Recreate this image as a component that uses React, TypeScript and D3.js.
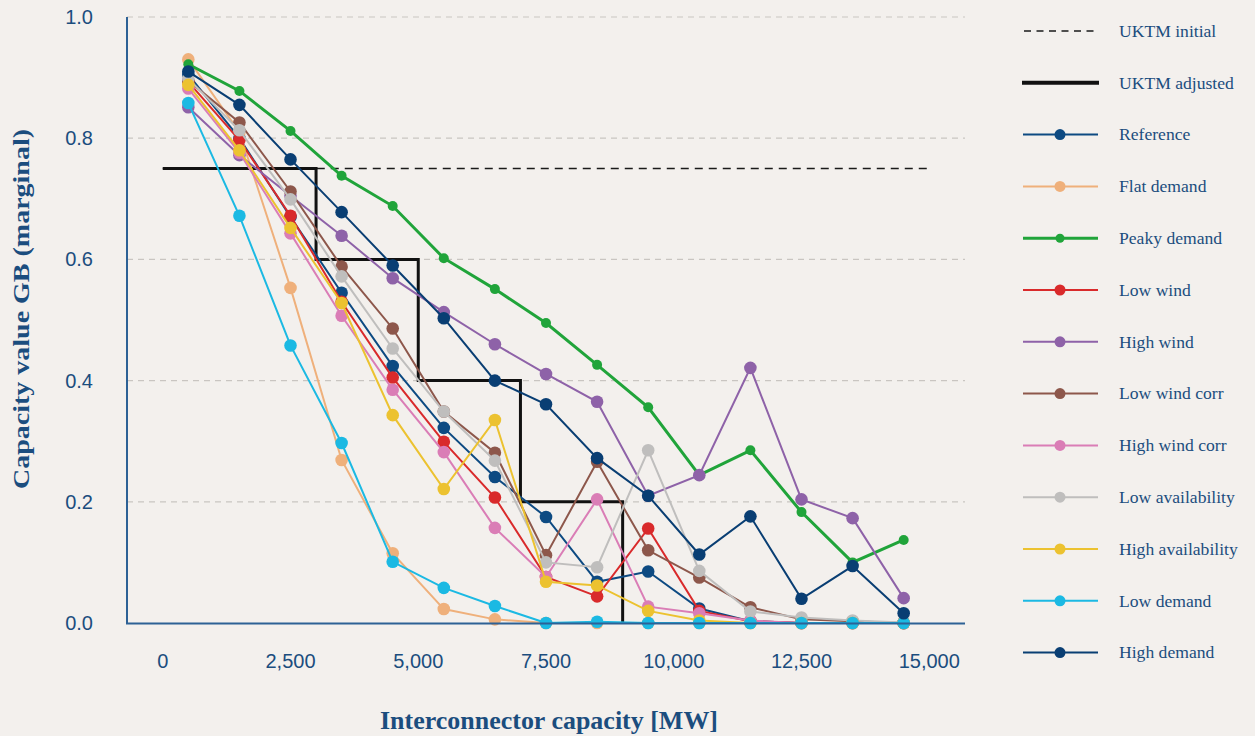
import React from "react";
import * as d3 from "d3";

const xValues = [500, 1500, 2500, 3500, 4500, 5500, 6500, 7500, 8500, 9500, 10500, 11500, 12500, 13500, 14500];

const reference = [0.905, 0.8, 0.67, 0.545, 0.424, 0.322, 0.241, 0.175, 0.068, 0.085, 0.024, 0.003, 0, 0, 0];
const flatDemand = [0.93, 0.81, 0.553, 0.269, 0.115, 0.023, 0.006, 0, 0, 0, 0, 0, 0, 0, 0];
const peakyDemand = [0.922, 0.878, 0.812, 0.738, 0.688, 0.602, 0.551, 0.495, 0.426, 0.356, 0.244, 0.285, 0.183, 0.1, 0.137];
const lowWind = [0.893, 0.797, 0.672, 0.53, 0.405, 0.299, 0.207, 0.076, 0.044, 0.156, 0.02, 0.003, 0, 0, 0];
const highWind = [0.851, 0.772, 0.705, 0.639, 0.569, 0.513, 0.46, 0.411, 0.365, 0.21, 0.244, 0.421, 0.204, 0.173, 0.041];
const lowWindCorr = [0.895, 0.826, 0.712, 0.588, 0.486, 0.349, 0.281, 0.112, 0.266, 0.12, 0.075, 0.026, 0.006, 0.003, 0];
const highWindCorr = [0.882, 0.776, 0.643, 0.507, 0.385, 0.282, 0.157, 0.076, 0.204, 0.027, 0.016, 0.004, 0, 0, 0];
const lowAvailability = [0.898, 0.813, 0.699, 0.572, 0.453, 0.349, 0.268, 0.1, 0.092, 0.285, 0.086, 0.019, 0.009, 0.004, 0.001];
const highAvailability = [0.888, 0.78, 0.652, 0.528, 0.343, 0.221, 0.335, 0.068, 0.062, 0.02, 0.004, 0, 0, 0, 0];
const lowDemand = [0.858, 0.672, 0.458, 0.297, 0.101, 0.058, 0.028, 0, 0.002, 0, 0, 0, 0, 0, 0];
const highDemand = [0.91, 0.855, 0.765, 0.678, 0.59, 0.503, 0.4, 0.361, 0.272, 0.21, 0.113, 0.176, 0.04, 0.094, 0.016];

const initialX = [0, 15000];
const initialValues = [0.75, 0.75];
const adjustedX = [0, 3000, 5000, 7000, 9000];
const adjustedValues = [0.75, 0.6, 0.4, 0.2, 0];

const xTicks = [0, 2500, 5000, 7500, 10000, 12500, 15000];
const yTicks = [0, 0.2, 0.4, 0.6, 0.8, 1.0];

const seriesNames = ["Reference", "Flat demand", "Peaky demand", "Low wind", "High wind", "Low wind corr", "High wind corr", "Low availability", "High availability", "Low demand", "High demand"];
const seriesValues = [reference, flatDemand, peakyDemand, lowWind, highWind, lowWindCorr, highWindCorr, lowAvailability, highAvailability, lowDemand, highDemand];
const seriesColors = ["#0d4a82", "#efb07b", "#20a43a", "#d92a2b", "#8e62a8", "#8d574b", "#da7db6", "#bfbebd", "#ecc230", "#1bb9e3", "#093e73"];

const W = 1255;
const H = 736;
const textBlue = "#1b4d7e";
const axisBlue = "#2d6195";
const serif = "'Liberation Serif', 'DejaVu Serif', serif";
const sans = "'Liberation Sans Narrow', 'Liberation Sans', 'Noto Sans', sans-serif";

export default function App() {
  const x = d3.scaleLinear().domain([-700, 15700]).range([127, 965]);
  const y = d3.scaleLinear().domain([0, 1]).range([623, 17]);

  const line = d3
    .line<[number, number]>()
    .x((d) => x(d[0]))
    .y((d) => y(d[1]));
  const stepLine = d3
    .line<[number, number]>()
    .x((d) => x(d[0]))
    .y((d) => y(d[1]))
    .curve(d3.curveStepAfter);

  const initialPts = initialX.map((v, i) => [v, initialValues[i]] as [number, number]);
  const adjustedPts = adjustedX.map((v, i) => [v, adjustedValues[i]] as [number, number]);

  const legendRows = ["UKTM initial", "UKTM adjusted", ...seriesNames];
  const legendY0 = 31;
  const legendStep = 51.8;

  return (
    <div style={{ position: "fixed", left: 0, top: 0, width: W, height: H, background: "#f3f0ed" }}>
      <svg width={W} height={H} style={{ display: "block" }}>
        <rect x={0} y={0} width={W} height={H} fill="#f3f0ed" />
        {yTicks.filter((t) => t > 0).map((t) => (
          <line key={t} x1={127} x2={965} y1={y(t)} y2={y(t)} stroke="#c9c5c1" strokeWidth={1.2} strokeDasharray="6,5" />
        ))}
        <path d={line(initialPts) || ""} fill="none" stroke="#1a1a1a" strokeWidth={1.6} strokeDasharray="8,6" />
        <path d={stepLine(adjustedPts) || ""} fill="none" stroke="#111" strokeWidth={3} />
        {seriesValues.map((vals, si) => {
          const pts = xValues.map((xv, i) => [xv, vals[i]] as [number, number]);
          const isPeaky = seriesNames[si] === "Peaky demand";
          return (
            <g key={seriesNames[si]}>
              <path d={line(pts) || ""} fill="none" stroke={seriesColors[si]} strokeWidth={isPeaky ? 3 : 2} />
              {pts.map((p, i) => (
                <circle key={i} cx={x(p[0])} cy={y(p[1])} r={isPeaky ? 5 : 6.3} fill={seriesColors[si]} />
              ))}
            </g>
          );
        })}
        <line x1={127} x2={127} y1={17} y2={624} stroke={axisBlue} strokeWidth={2} />
        <line x1={126} x2={965} y1={623.5} y2={623.5} stroke={axisBlue} strokeWidth={2.2} />
        {yTicks.map((t) => (
          <text key={t} x={93} y={y(t)} dy="0.35em" textAnchor="end" fontFamily={sans} fontSize={20} fill={textBlue}>
            {d3.format(".1f")(t)}
          </text>
        ))}
        {xTicks.map((t) => (
          <text key={t} x={x(t)} y={661} dy="0.35em" textAnchor="middle" fontFamily={sans} fontSize={20} fill={textBlue}>
            {d3.format(",")(t)}
          </text>
        ))}
        <text x={549} y={729} textAnchor="middle" fontFamily={serif} fontWeight="bold" fontSize={24.5} fill={textBlue} textLength={338} lengthAdjust="spacingAndGlyphs">
          Interconnector capacity [MW]
        </text>
        <text transform="translate(29,309) rotate(-90)" textAnchor="middle" fontFamily={serif} fontWeight="bold" fontSize={23.5} fill={textBlue} textLength={360} lengthAdjust="spacingAndGlyphs">
          Capacity value GB (marginal)
        </text>
        {legendRows.map((name, i) => {
          const ly = legendY0 + i * legendStep;
          let sample: React.ReactNode;
          if (i === 0) {
            sample = <line x1={1024} x2={1097} y1={ly} y2={ly} stroke="#1a1a1a" strokeWidth={1.6} strokeDasharray="7,5.5" />;
          } else if (i === 1) {
            sample = <line x1={1022} x2={1099} y1={ly} y2={ly} stroke="#111" strokeWidth={4} />;
          } else {
            const si = i - 2;
            const isPeaky = seriesNames[si] === "Peaky demand";
            sample = (
              <g>
                <line x1={1023} x2={1098} y1={ly} y2={ly} stroke={seriesColors[si]} strokeWidth={isPeaky ? 3 : 2} />
                <circle cx={1060} cy={ly} r={isPeaky ? 4.5 : 5.5} fill={seriesColors[si]} />
              </g>
            );
          }
          return (
            <g key={name}>
              {sample}
              <text x={1119} y={ly} dy="0.33em" fontFamily={serif} fontSize={17.6} fill={textBlue}>
                {name}
              </text>
            </g>
          );
        })}
      </svg>
    </div>
  );
}
